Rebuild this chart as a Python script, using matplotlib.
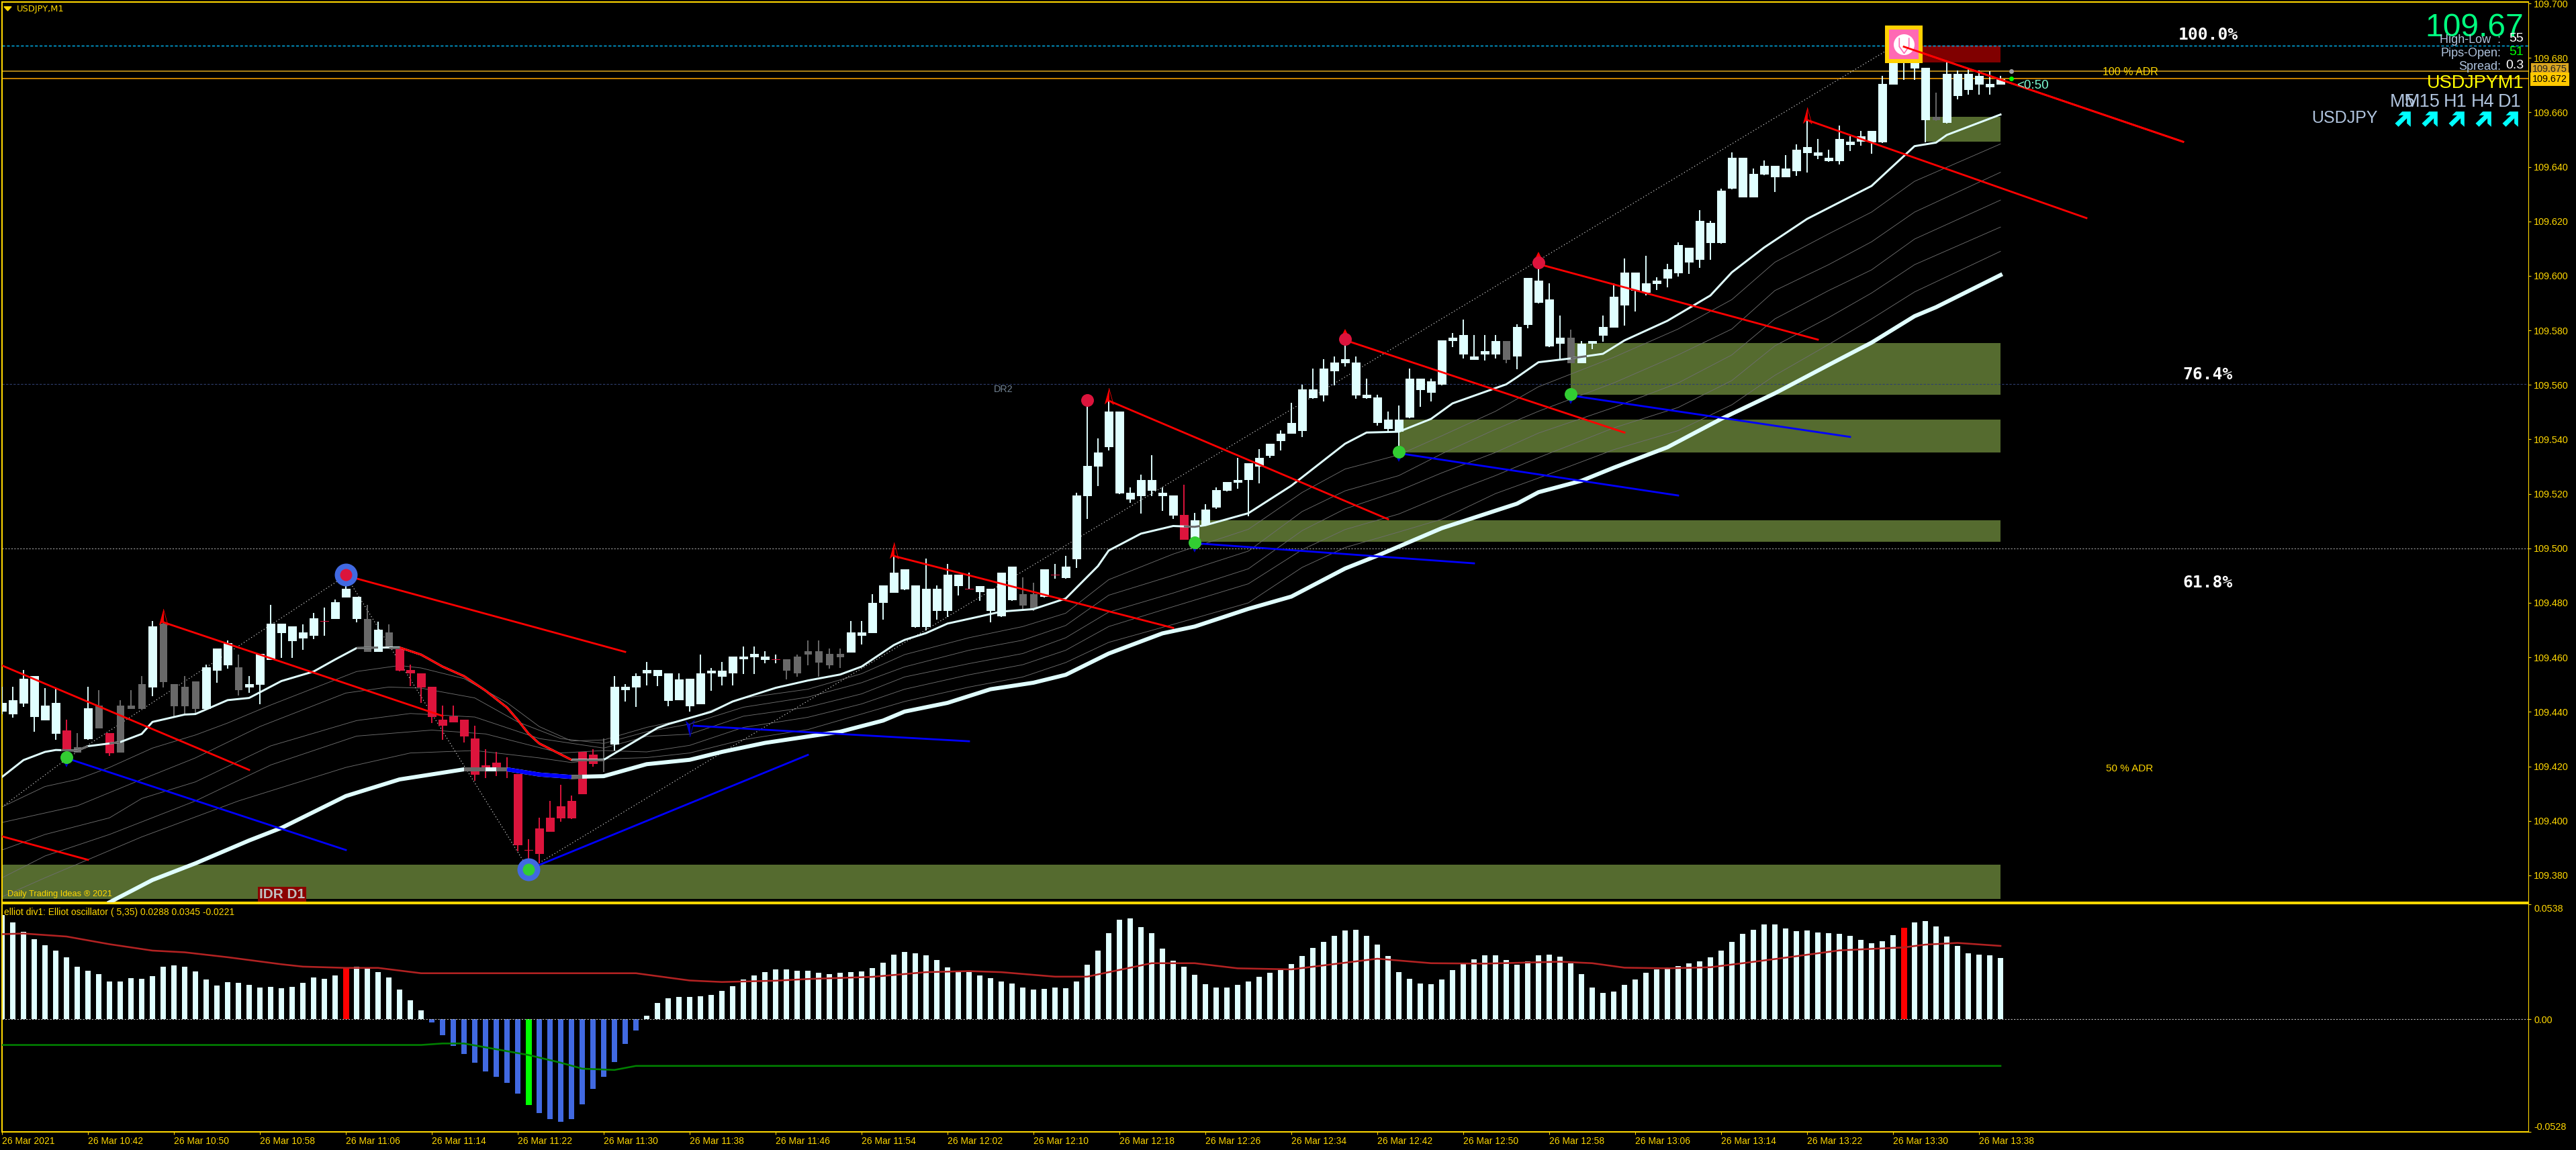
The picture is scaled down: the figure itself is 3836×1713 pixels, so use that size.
import numpy as np
import matplotlib
matplotlib.use("Agg")
import matplotlib.pyplot as plt
from matplotlib.path import Path

W, H = 3836, 1713
plt.rcParams['font.family'] = ['Liberation Sans', 'DejaVu Sans']

# candles, prices: high, body top, body bottom, low
high = [109.4491,109.4491,109.4553,109.4532,109.4487,109.4485,109.4372,109.4321,109.4491,109.4480,
        109.4321,109.4443,109.4480,109.4532,109.4733,109.4759,109.4502,109.4532,109.4511,109.4573,
        109.4632,109.4663,109.4610,109.4532,109.4612,109.4792,109.4724,109.4714,109.4722,109.4762,
        109.4783,109.4812,109.4874,109.4821,109.4792,109.4731,109.4722,109.4641,109.4573,109.4542,
        109.4491,109.4422,109.4422,109.4372,109.4350,109.4262,109.4253,109.4233,109.4172,109.3932,
        109.4011,109.4073,109.4132,109.4093,109.4253,109.4262,109.4302,109.4532,109.4502,109.4542,
        109.4582,109.4553,109.4542,109.4542,109.4522,109.4611,109.4561,109.4583,109.4603,109.4640,
        109.4640,109.4623,109.4611,109.4592,109.4611,109.4661,109.4661,109.4632,109.4632,109.4733,
        109.4733,109.4831,109.4863,109.4972,109.4922,109.4863,109.4962,109.4863,109.4942,109.4903,
        109.4911,109.4862,109.4852,109.4911,109.4933,109.4893,109.4874,109.4922,109.4942,109.4972,
        109.5204,109.5525,109.5403,109.5542,109.5502,109.5224,109.5271,109.5342,109.5224,109.5193,
        109.5233,109.5131,109.5161,109.5224,109.5243,109.5331,109.5312,109.5364,109.5384,109.5432,
        109.5534,109.5601,109.5661,109.5694,109.5703,109.5769,109.5703,109.5623,109.5563,109.5503,
        109.5524,109.5661,109.5623,109.5624,109.5763,109.5791,109.5840,109.5782,109.5782,109.5782,
        109.5762,109.5822,109.5992,109.6044,109.5972,109.5854,109.5802,109.5761,109.5762,109.5854,
        109.5972,109.6064,109.6012,109.6074,109.5994,109.6044,109.6123,109.6102,109.6242,109.6203,
        109.6321,109.6453,109.6433,109.6394,109.6423,109.6404,109.6443,109.6482,109.6572,109.6502,
        109.6462,109.6552,109.6511,109.6533,109.6533,109.6734,109.6869,109.6847,109.6792,109.6763,
        109.6673,109.6783,109.6753,109.6762,109.6753,109.6751,109.6734]
body_top = [109.4432,109.4443,109.4522,109.4532,109.4422,109.4432,109.4331,109.4271,109.4413,109.4422,
            109.4321,109.4422,109.4422,109.4502,109.4714,109.4724,109.4502,109.4491,109.4511,109.4563,
            109.4632,109.4651,109.4563,109.4502,109.4612,109.4724,109.4724,109.4714,109.4691,109.4744,
            109.4733,109.4802,109.4852,109.4821,109.4742,109.4702,109.4691,109.4629,109.4553,109.4542,
            109.4491,109.4372,109.4383,109.4372,109.4302,109.4203,109.4214,109.4193,109.4172,109.3893,
            109.3972,109.4011,109.4053,109.4073,109.4253,109.4242,109.4228,109.4491,109.4491,109.4532,
            109.4553,109.4553,109.4542,109.4520,109.4522,109.4542,109.4552,109.4552,109.4603,109.4603,
            109.4612,109.4603,109.4593,109.4592,109.4603,109.4623,109.4623,109.4612,109.4612,109.4691,
            109.4691,109.4801,109.4863,109.4911,109.4922,109.4863,109.4852,109.4852,109.4903,109.4903,
            109.4851,109.4862,109.4852,109.4911,109.4933,109.4831,109.4831,109.4922,109.4903,109.4933,
            109.5193,109.5302,109.5351,109.5502,109.5502,109.5203,109.5252,109.5252,109.5203,109.5193,
            109.5122,109.5102,109.5142,109.5213,109.5243,109.5252,109.5312,109.5331,109.5384,109.5422,
            109.5461,109.5583,109.5583,109.5661,109.5681,109.5694,109.5681,109.5563,109.5553,109.5472,
            109.5472,109.5623,109.5623,109.5613,109.5763,109.5772,109.5782,109.5704,109.5723,109.5762,
            109.5762,109.5813,109.5992,109.5982,109.5913,109.5772,109.5772,109.5752,109.5762,109.5812,
            109.5923,109.6012,109.6012,109.5972,109.5982,109.6024,109.6112,109.6102,109.6203,109.6194,
            109.6312,109.6433,109.6433,109.6374,109.6404,109.6404,109.6394,109.6462,109.6473,109.6453,
            109.6433,109.6502,109.6492,109.6513,109.6533,109.6704,109.6781,109.6814,109.6781,109.6763,
            109.6583,109.6742,109.6742,109.6742,109.6734,109.6704,109.6722]
body_bot = [109.4400,109.4392,109.4431,109.4381,109.4370,109.4319,109.4258,109.4251,109.4299,109.4340,
            109.4249,109.4251,109.4410,109.4410,109.4489,109.4509,109.4421,109.4421,109.4410,109.4410,
            109.4551,109.4570,109.4480,109.4489,109.4500,109.4590,109.4689,109.4660,109.4669,109.4678,
            109.4731,109.4740,109.4819,109.4740,109.4620,109.4620,109.4638,109.4551,109.4541,109.4489,
            109.4381,109.4348,109.4361,109.4309,109.4170,109.4181,109.4192,109.4190,109.3910,109.3891,
            109.3879,109.3959,109.4009,109.4009,109.4099,109.4209,109.4225,109.4280,109.4480,109.4489,
            109.4541,109.4532,109.4440,109.4442,109.4420,109.4429,109.4541,109.4530,109.4541,109.4592,
            109.4601,109.4590,109.4591,109.4551,109.4542,109.4610,109.4581,109.4570,109.4601,109.4618,
            109.4678,109.4689,109.4801,109.4838,109.4849,109.4711,109.4711,109.4771,109.4771,109.4862,
            109.4849,109.4840,109.4771,109.4750,109.4809,109.4790,109.4781,109.4821,109.4901,109.4891,
            109.4960,109.5192,109.5300,109.5371,109.5201,109.5179,109.5192,109.5212,109.5192,109.5120,
            109.5032,109.5023,109.5085,109.5149,109.5211,109.5241,109.5251,109.5300,109.5340,109.5393,
            109.5421,109.5431,109.5551,109.5562,109.5651,109.5679,109.5562,109.5551,109.5461,109.5439,
            109.5428,109.5480,109.5582,109.5571,109.5600,109.5760,109.5712,109.5692,109.5711,109.5711,
            109.5692,109.5703,109.5821,109.5901,109.5741,109.5751,109.5679,109.5679,109.5751,109.5780,
            109.5810,109.5892,109.5945,109.5939,109.5970,109.5989,109.6009,109.6049,109.6060,109.6121,
            109.6120,109.6319,109.6289,109.6289,109.6372,109.6363,109.6363,109.6383,109.6451,109.6440,
            109.6421,109.6420,109.6480,109.6493,109.6489,109.6489,109.6702,109.6786,109.6761,109.6572,
            109.6572,109.6561,109.6660,109.6682,109.6702,109.6693,109.6702]
low = [109.4390,109.4379,109.4418,109.4326,109.4370,109.4297,109.4201,109.4251,109.4297,109.4340,
       109.4238,109.4251,109.4410,109.4410,109.4458,109.4489,109.4381,109.4390,109.4394,109.4407,
       109.4507,109.4559,109.4460,109.4469,109.4428,109.4590,109.4598,109.4598,109.4627,109.4667,
       109.4678,109.4740,109.4819,109.4729,109.4620,109.4619,109.4638,109.4548,109.4495,109.4434,
       109.4359,109.4297,109.4361,109.4287,109.4148,109.4157,109.4165,109.4157,109.3888,109.3844,
       109.3844,109.3959,109.3996,109.4007,109.4099,109.4198,109.4179,109.4258,109.4438,109.4419,
       109.4497,109.4495,109.4421,109.4442,109.4400,109.4429,109.4478,109.4497,109.4497,109.4539,
       109.4539,109.4579,109.4579,109.4519,109.4530,109.4570,109.4530,109.4559,109.4561,109.4618,
       109.4647,109.4689,109.4739,109.4838,109.4847,109.4708,109.4698,109.4739,109.4749,109.4827,
       109.4849,109.4808,109.4728,109.4749,109.4808,109.4777,109.4771,109.4819,109.4889,109.4889,
       109.4928,109.5109,109.5228,109.5359,109.5199,109.5167,109.5127,109.5192,109.5138,109.5109,
       109.5032,109.5023,109.5085,109.5146,109.5210,109.5219,109.5118,109.5239,109.5331,109.5359,
       109.5421,109.5409,109.5549,109.5540,109.5598,109.5668,109.5549,109.5549,109.5450,109.5428,
       109.5351,109.5477,109.5519,109.5538,109.5598,109.5738,109.5697,109.5692,109.5690,109.5697,
       109.5679,109.5657,109.5807,109.5899,109.5739,109.5692,109.5679,109.5679,109.5730,109.5758,
       109.5810,109.5818,109.5870,109.5928,109.5948,109.5958,109.5998,109.6008,109.6030,109.6059,
       109.6119,109.6317,109.6288,109.6288,109.6370,109.6308,109.6361,109.6368,109.6379,109.6429,
       109.6418,109.6409,109.6459,109.6478,109.6448,109.6488,109.6702,109.6719,109.6719,109.6489,
       109.6570,109.6559,109.6647,109.6665,109.6665,109.6665,109.6701]
crimson_bars = [6, 10] + list(range(37, 56)) + [110]
grey_bars = [7, 9, 11, 12, 13, 15, 16, 17, 18, 22, 34, 36, 56, 73, 74, 75, 76, 77, 78, 95, 96, 140, 146, 180]
doji_bars = [30, 72, 90, 98]

# oscillator histogram
osc = [.0487,.0453,.0408,.0375,.0346,.0321,.0290,.0246,.0227,.0211,.0177,.0177,.0193,.0190,.0202,.0246,
       .0252,.0246,.0224,.0186,.0158,.0174,.0171,.0161,.0149,.0152,.0146,.0152,.0171,.0196,.0190,.0205,
       .0238,.0246,.0238,.0221,.0196,.0139,.0089,.0042,-.0014,-.0076,-.0124,-.0162,-.0203,-.0244,-.0269,
       -.0300,-.0348,-.0401,-.0439,-.0467,-.0480,-.0467,-.0398,-.0326,-.0269,-.0200,-.0115,-.0052,.0017,
       .0076,.0098,.0105,.0105,.0108,.0114,.0133,.0155,.0186,.0205,.0221,.0233,.0233,.0227,.0227,.0218,
       .0211,.0218,.0221,.0224,.0240,.0265,.0303,.0315,.0309,.0299,.0277,.0243,.0221,.0221,.0205,.0193,
       .0177,.0168,.0149,.0139,.0142,.0149,.0146,.0177,.0255,.0321,.0403,.0466,.0472,.0431,.0403,.0331,
       .0274,.0246,.0208,.0164,.0149,.0149,.0161,.0177,.0199,.0218,.0230,.0259,.0296,.0334,.0362,.0391,
       .0416,.0419,.0391,.0350,.0296,.0221,.0190,.0168,.0164,.0186,.0230,.0259,.0281,.0299,.0299,.0277,
       .0255,.0271,.0299,.0303,.0293,.0262,.0211,.0149,.0124,.0130,.0161,.0186,.0218,.0233,.0243,.0249,
       .0262,.0271,.0290,.0321,.0362,.0400,.0419,.0444,.0444,.0425,.0413,.0416,.0406,.0403,.0400,.0391,
       .0372,.0356,.0365,.0394,.0428,.0453,.0460,.0435,.0387,.0343,.0309,.0303,.0299,.0287]
osc_red_bars = [32, 177]
osc_green_bars = [49]

sig_up_x = [0,2,6,10,14,17,21,26,28,32,35,39,59,64,67,72,75,81,86,90,93,98,101,107,111,115,120,128,133,138,
            145,148,151,155,159,162,166,171,177,179,182,186]
sig_up = [.0398,.0401,.0387,.0351,.0321,.0313,.0290,.0257,.0246,.0240,.0240,.0215,.0215,.0181,.0174,.0180,
          .0188,.0198,.0220,.0225,.0220,.0199,.0199,.0262,.0262,.0238,.0233,.0283,.0262,.0260,.0269,.0262,
          .0241,.0238,.0243,.0262,.0288,.0322,.0336,.0349,.0357,.0343]
sig_dn_x = [0, 39, 41, 43, 46, 49, 52, 54, 57, 59, 186]
sig_dn = [-.0121, -.0121, -.0114, -.0114, -.0141, -.0168, -.0204, -.0232, -.0238, -.0219, -.0219]

# moving averages
fast_x = [0,2,4,5,7,8,11,13,14,17,18,21,23,26,29,31,33,35,37,39,41,43,45,47,48,49,50,53,56,61,62,66,68,72,75,78,
          80,83,84,86,88,91,93,96,99,102,103,106,109,111,112,116,120,125,127,130,133,135,140,141,143,146,149,
          151,155,159,161,164,168,174,178,180,181,186]
fast = [109.4161,109.4223,109.4253,109.4260,109.4258,109.4274,109.4289,109.4319,109.4363,109.4390,109.4392,
        109.4443,109.4451,109.4513,109.4548,109.4592,109.4634,109.4636,109.4636,109.4610,109.4566,109.4531,
        109.4478,109.4416,109.4370,109.4320,109.4284,109.4224,109.4224,109.4341,109.4355,109.4400,109.4438,
        109.4488,109.4515,109.4537,109.4566,109.4645,109.4664,109.4689,109.4724,109.4750,109.4768,109.4777,
        109.4816,109.4935,109.4992,109.5054,109.5082,109.5079,109.5085,109.5129,109.5230,109.5384,109.5425,
        109.5428,109.5475,109.5532,109.5602,109.5628,109.5683,109.5697,109.5714,109.5763,109.5835,109.5928,
        109.6013,109.6104,109.6209,109.6330,109.6476,109.6489,109.6517,109.6592]
slow_x = [10,14,18,23,26,32,37,43,47,50,53,56,60,64,67,71,78,82,84,88,92,96,99,103,108,111,116,120,125,128,134,
          141,143,147,150,155,160,165,170,174,178,180,186]
slow = [109.3701,109.3783,109.3844,109.3928,109.3974,109.4091,109.4152,109.4189,109.4189,109.4170,109.4161,
        109.4164,109.4208,109.4224,109.4253,109.4286,109.4327,109.4368,109.4401,109.4433,109.4483,109.4507,
        109.4536,109.4614,109.4688,109.4713,109.4778,109.4823,109.4926,109.4973,109.5074,109.5164,109.5206,
        109.5248,109.5296,109.5371,109.5475,109.5569,109.5673,109.5755,109.5852,109.5885,109.6003]

thin_tail_x = [60,64,69,75,80,84,90,95,99,103,109,116,121,125,130,134,139,143,150,156,161,165,170,174,178,186]
t1_x = [0,4,7,10,14,18,21,25,33,37,39,43,47,50,53,56] + thin_tail_x
t1 = [.4051,.4126,.4152,.4196,.4267,.4315,.4359,.4425,.4548,.4570,.4561,.4522,.4434,.4346,.4293,.4297,
      .4343,.4376,.4450,.4483,.4540,.4610,.4672,.4713,.4762,.4885,.4979,.5070,.5205,.5291,.5343,.5413,.5503,
      .5593,.5701,.5805,.5913,.6050,.6154,.6234,.6347,.6484]
t2_x = [0,7,13,18,24,32,36,39,44,48,52,56] + thin_tail_x
t2 = [.3994,.4055,.4152,.4231,.4346,.4469,.4491,.4487,.4451,.4363,.4302,.4284,
      .4327,.4355,.4417,.4454,.4507,.4565,.4626,.4663,.4717,.4828,.4901,.4990,.5135,.5211,.5267,.5347,.5437,
      .5503,.5607,.5710,.5805,.5946,.6041,.6125,.6234,.6380]
t3_x = [0,4,10,13,18,25,33,38,44,50,56] + thin_tail_x
t3 = [.3893,.3950,.4011,.4082,.4143,.4275,.4368,.4394,.4381,.4302,.4267,
      .4310,.4318,.4384,.4417,.4466,.4528,.4577,.4614,.4672,.4766,.4836,.4925,.5065,.5145,.5211,.5277,.5352,
      .5423,.5517,.5607,.5710,.5842,.5946,.6022,.6135,.6278]
t4_x = [0,4,10,18,25,33,40,45,52,56] + thin_tail_x
t4 = [.3791,.3871,.3950,.4073,.4205,.4311,.4333,.4319,.4249,.4258,
      .4253,.4277,.4343,.4380,.4429,.4483,.4536,.4573,.4626,.4713,.4786,.4870,.4995,.5069,.5126,.5192,.5267,
      .5333,.5442,.5517,.5616,.5743,.5847,.5937,.6041,.6179]
t5_x = [0,4,13,22,32,38,44,50,53,56] + thin_tail_x
t5 = [.3721,.3791,.3941,.4073,.4196,.4249,.4258,.4231,.4214,.4227,
      .4232,.4249,.4298,.4335,.4392,.4438,.4491,.4528,.4581,.4655,.4721,.4800,.4930,.5003,.5060,.5107,.5201,
      .5258,.5362,.5432,.5527,.5635,.5748,.5842,.5941,.6090]

# zones: first bar, last bar, top, bottom
zones = [(-1, 186, 109.3840, 109.3714), (111, 186, 109.5102, 109.5023), (130, 186, 109.5473, 109.5352),
         (146, 186, 109.5754, 109.5563), (179, 186, 109.6583, 109.6493)]
red_box = (178.6, 186, 109.6844, 109.6783)

red_lines = [(0,109.4570,23,109.4187), (15,109.4729,41,109.4385), (32,109.4900,58,109.4620), (0,109.3943,8,109.3857),
             (83,109.4972,109,109.4708), (103,109.5542,129,109.5107), (125,109.5764,151,109.5425),
             (143.5,109.6038,169,109.5766), (168,109.6572,194,109.6212), (177,109.6841,203,109.6492)]
blue_lines = [(6,109.4230,32,109.3893), (49,109.3822,75,109.4242), (64.4,109.4349,90,109.4292),
              (111,109.5019,137,109.4945), (130,109.5349,156,109.5194), (146,109.5561,172,109.5409)]
zigzag_x = [0, 6, 32, 49, 177]
zigzag = [109.4051, 109.4227, 109.4900, 109.3822, 109.6865]

ring_red = (32, 109.4904)
ring_green = (49, 109.3822)
green_dots = [(6, 109.4233), (111, 109.5021), (130, 109.5354), (146, 109.5566)]
crimson_dots = [(101, 109.5545), (125, 109.5767), (143, 109.6050)]
up_arrows = [(15, 109.4748), (83, 109.4992), (103, 109.5558), (168, 109.6588)]

time_ticks = list(range(0, 185, 8))
time_labels = ["26 Mar 2021", "26 Mar 10:42", "26 Mar 10:50", "26 Mar 10:58", "26 Mar 11:06", "26 Mar 11:14",
               "26 Mar 11:22", "26 Mar 11:30", "26 Mar 11:38", "26 Mar 11:46", "26 Mar 11:54", "26 Mar 12:02",
               "26 Mar 12:10", "26 Mar 12:18", "26 Mar 12:26", "26 Mar 12:34", "26 Mar 12:42", "26 Mar 12:50",
               "26 Mar 12:58", "26 Mar 13:06", "26 Mar 13:14", "26 Mar 13:22", "26 Mar 13:30", "26 Mar 13:38"]
price_ticks = [109.38 + 0.02 * k for k in range(17)]

GOLD = "#FFD700"
AZURE = "#E0FFFF"
CRIMSON = "#DC143C"
GREY = "#696969"
OLIVE = "#556B2F"
PX = 0.72  # points per pixel at dpi 100


def px_box(x0, y0, x1, y1):
    return [x0 / W, 1 - y1 / H, (x1 - x0) / W, (y1 - y0) / H]


def txt(x, y, s, color=GOLD, size=10, ha="left", va="center", **kw):
    return fig.text(x / W, 1 - y / H, s, color=color, fontsize=size, ha=ha, va=va, **kw)


def part(xs, ys, a, b, color, lw, z=5):
    # piece of a polyline between bars a and b
    xs = np.array(xs, float)
    ys = np.array(ys, float)
    keep = (xs > a) & (xs < b)
    px_ = np.r_[a, xs[keep], b]
    py_ = np.r_[np.interp(a, xs, ys), ys[keep], np.interp(b, xs, ys)]
    ax.plot(px_, py_, color=color, lw=lw, zorder=z, solid_capstyle="butt")


fig = plt.figure(figsize=(W / 100, H / 100), dpi=100, facecolor="black")
ax = fig.add_axes(px_box(2.5, 2.5, 3765, 1344), facecolor="black")
ax2 = fig.add_axes(px_box(2.5, 1346, 3765, 1686), facecolor="black")

xlim = ((2.5 - 3) / 16, (3765 - 3) / 16)
for a in (ax, ax2):
    a.set_xlim(*xlim)
    for s in a.spines.values():
        s.set_color(GOLD)
        s.set_linewidth(1.5)
    a.spines["right"].set_linewidth(0.8)
ax.set_ylim(109.70 - (1344 - 5) / 4059, 109.70 + 2.5 / 4059)
ax2.set_ylim(-(1686 - 1518.3) * 0.000314, (1518.3 - 1346) * 0.000314)

# price axis
ax.yaxis.tick_right()
ax.set_yticks(price_ticks)
ax.set_yticklabels(["%.3f" % p for p in price_ticks])
ax.tick_params(axis="y", colors=GOLD, labelsize=10.4, length=3, width=0.8, pad=3)
ax.set_xticks([])

# zones and level lines
for a_, b_, top, bot in zones:
    ax.fill_between([a_, b_], bot, top, color=OLIVE, lw=0, zorder=1)
ax.fill_between(red_box[:2], red_box[3], red_box[2], color="#800000", lw=0, zorder=1)
ax.axhline(109.5000, color="#A0A0A0", lw=0.8, ls=(0, (2, 2)), zorder=1.5)
ax.axhline(109.5604, color="#2F3F6F", lw=0.8, ls=(0, (3, 2)), zorder=1.5)
ax.axhline(109.6844, color="#00BFFF", lw=1, ls=(0, (3, 2)), zorder=1.5)
ax.axhline(109.6752, color="#DAA520", lw=1.1, zorder=1.5)
ax.axhline(109.6723, color="#FFA500", lw=1.1, zorder=1.5)
ax.plot([187], [109.6752], "o", color="#A0A0A0", ms=4, zorder=6)
ax.plot([187], [109.6723], "o", color="#00FF00", ms=4, zorder=6)

# thin averages and dotted swing lines
for tx, ty in [(t1_x, t1), (t2_x, t2), (t3_x, t3), (t4_x, t4), (t5_x, t5)]:
    ax.plot(tx, 109 + np.array(ty), color="#6E6E6E", lw=0.65, zorder=2)
ax.plot(zigzag_x, zigzag, color="white", lw=0.8, ls=(0, (1, 3)), zorder=2.5)

# candles
x = np.arange(len(high))
high = np.array(high)
low = np.array(low)
body_top = np.array(body_top)
body_bot = np.array(body_bot)
colors = [AZURE] * len(x)
widths = [13 / 16] * len(x)
for i in crimson_bars:
    colors[i] = CRIMSON
for i in grey_bars:
    colors[i] = GREY
    widths[i] = 11 / 16
wick_colors = list(colors)
for i in doji_bars:
    colors[i] = CRIMSON
    wick_colors[i] = AZURE
ax.vlines(x, low, high, colors=wick_colors, lw=1.4, zorder=3)
ax.bar(x, np.maximum(body_top - body_bot, 0.0003), bottom=body_bot, width=widths, color=colors, lw=0, zorder=3.2)

# fast and slow averages
ax.plot(fast_x, fast, color=AZURE, lw=3 * PX, zorder=5)
part(fast_x, fast, 37, 53, "#FF0000", 3 * PX, 5.1)
for a_, b_ in [(5.5, 8), (10, 11), (33, 35), (36, 37), (53, 56), (110, 111.5), (146, 147.5)]:
    part(fast_x, fast, a_, b_, GREY, 3 * PX, 5.2)
ax.plot(slow_x, slow, color=AZURE, lw=6 * PX, zorder=5)
part(slow_x, slow, 47, 53, "#0000FF", 6 * PX, 5.1)
for a_, b_ in [(43, 45), (46, 47), (53, 54)]:
    part(slow_x, slow, a_, b_, GREY, 6 * PX, 5.2)

# trend lines
for x0, y0, x1, y1 in red_lines:
    ax.plot([x0, x1], [y0, y1], color="#FF0000", lw=2.8 * PX, zorder=6)
for x0, y0, x1, y1 in blue_lines:
    ax.plot([x0, x1], [y0, y1], color="#0000FF", lw=2.8 * PX, zorder=6)

# markers
left_half = Path([(0, 1), (-.55, -1), (0, -.5), (0, 1)], closed=True)
right_half = Path([(0, 1), (.55, -1), (0, -.5), (0, 1)], closed=True)
for i, p in up_arrows:
    ax.plot(i, p, marker=left_half, ms=24 * PX, color="#FF0000", mew=0, zorder=7)
    ax.plot(i, p, marker=right_half, ms=24 * PX, mfc="none", mec="#FF0000", mew=0.6, zorder=7)
ax.plot(64, 109.4339, marker=Path([(0, -1), (-.55, 1), (0, .5), (0, -1)], closed=True), ms=24 * PX, color="#0000CD", mew=0, zorder=7)
ax.plot(64, 109.4339, marker=Path([(0, -1), (.55, 1), (0, .5), (0, -1)], closed=True), ms=24 * PX, mfc="none", mec="#0000CD", mew=0.6, zorder=7)
for i, p in green_dots:
    ax.plot(i, p - 0.0024, "v", color="#0000CD", ms=10 * PX, mew=0, zorder=6.5)
    ax.plot(i, p, "o", color="#32CD32", ms=19 * PX, mew=0, zorder=7)
for i, p in crimson_dots:
    if i != 101:
        ax.plot(i, p + 0.0024, "^", color="#FF0000", ms=12 * PX, mew=0, zorder=6.5)
    ax.plot(i, p, "o", color=CRIMSON, ms=19 * PX, mew=0, zorder=7)
ax.plot(*ring_red, "o", color="#4169E1", ms=34 * PX, mew=0, zorder=7)
ax.plot(*ring_red, "o", color=CRIMSON, ms=18 * PX, mew=0, zorder=7.1)
ax.plot(*ring_green, "o", color="#4169E1", ms=34 * PX, mew=0, zorder=7)
ax.plot(*ring_green, "o", color="#32CD32", ms=18 * PX, mew=0, zorder=7.1)

# top marker
top_x, top_p = 177, 109.6850
ax.plot(top_x, top_p, "s", color="#FFD100", ms=56 * PX, mew=0, zorder=7)
ax.plot(top_x, top_p, "s", color="#FF69B4", ms=44 * PX, mew=0, zorder=7.1)
ax.plot(top_x, top_p, "o", color="white", ms=31 * PX, mew=0, zorder=7.2)
tulip = Path([(-.5, .7), (-.5, -.2), (0, -.9), (.5, -.2), (.5, .7)], [1, 2, 2, 2, 2])
ax.plot(top_x, top_p, marker=tulip, ms=26 * PX, mfc="none", mec="#FF69B4", mew=1.2, zorder=7.3)
ax.plot([top_x, 203], [109.6841, 109.6492], color="#FF0000", lw=2.8 * PX, zorder=7.4)

# oscillator
ax2.yaxis.tick_right()
ax2.set_yticks([0.0538, 0.0, -0.0528])
ax2.set_yticklabels(["0.0538", "0.00", "-0.0528"])
ax2.tick_params(axis="y", colors=GOLD, labelsize=10.4, length=3, width=0.8, pad=3)
labs = ax2.get_yticklabels()
labs[0].set_va("top")
labs[2].set_va("bottom")
ax2.set_xticks(time_ticks)
ax2.set_xticklabels(time_labels, ha="left")
ax2.tick_params(axis="x", colors=GOLD, labelsize=10, length=3, width=0.8, pad=2)

osc = np.array(osc)
bar_colors = [AZURE if v >= 0 else "#4169E1" for v in osc]
bar_widths = [7.5 / 16] * len(osc)
for i in osc_red_bars:
    bar_colors[i] = "#FF0000"
    bar_widths[i] = 9 / 16
for i in osc_green_bars:
    bar_colors[i] = "#00FF00"
    bar_widths[i] = 9 / 16
ax2.bar(np.arange(len(osc)), osc, width=bar_widths, color=bar_colors, lw=0, zorder=2)
ax2.plot(sig_up_x, sig_up, color="#B22222", lw=2.6 * PX, zorder=3)
ax2.plot(sig_dn_x, sig_dn, color="#008000", lw=2.6 * PX, zorder=3)
ax2.axhline(0, color="#C0C0C0", lw=0.8, ls=(0, (2, 2)), zorder=4)

# texts
fig.add_artist(plt.Polygon([[6 / W, 1 - 10 / H], [17 / W, 1 - 10 / H], [11.5 / W, 1 - 16 / H]], color=GOLD, transform=fig.transFigure))
txt(25, 14, "USDJPY,M1", size=9.4, family="DejaVu Sans")
txt(6, 1359, "elliot div1: Elliot oscillator ( 5,35) 0.0288 0.0345 -0.0221", size=10)
txt(11, 1332, "Daily Trading Ideas \u00ae 2021", size=9.3)
txt(420, 1332, "IDR D1", color="#C0C0C0", size=15, ha="center", weight="bold",
    bbox=dict(facecolor="#8B0000", edgecolor="none", pad=1.2))
txt(1494, 580, "DR2", color="#708090", size=10.4, ha="center")
for y, s in [(52, "100.0%"), (558, "76.4%"), (868, "61.8%")]:
    txt(3288, y, s, color="white", size=17.7, ha="center", weight="bold", family="DejaVu Sans Mono")
txt(3172, 108, "100 % ADR", size=11.5, ha="center")
txt(3171, 1145, "50 % ADR", size=11, ha="center")
txt(3003, 128, "<0:50", color="#7FFFD4", size=13.5)
txt(3758, 41, "109.67", color="#00FF7F", size=34.6, ha="right")
txt(3724, 60, "High-Low  :", color="#B0C4DE", size=13, ha="right")
txt(3758, 58, "55", color="white", size=14, ha="right")
txt(3724, 80, "Pips-Open:", color="#B0C4DE", size=13, ha="right")
txt(3758, 78, "51", color="#00FF00", size=14, ha="right")
txt(3724, 100, "Spread:", color="#B0C4DE", size=13, ha="right")
txt(3758, 98, "0.3", color="white", size=14, ha="right")
txt(3758, 124, "USDJPYM1", color="#FFFF00", size=19.5, ha="right")
for xr, s in [(3596, "M5"), (3634, "M15"), (3674, "H1"), (3714, "H4"), (3754, "D1")]:
    txt(xr, 152, s, color="#B0C4DE", size=19.5, ha="right")
txt(3442, 176, "USDJPY", color="#B0C4DE", size=18)

# price flags on the axis
txt(3797, 103, "109.675", color="#222222", size=10.4, ha="center",
    bbox=dict(facecolor="#DAA520", edgecolor="none", boxstyle="square,pad=0.12"))
txt(3797, 118, "109.672", color="black", size=10.4, ha="center",
    bbox=dict(facecolor="#FFC800", edgecolor="none", boxstyle="square,pad=0.2"))

# trend arrows in the panel
ov = fig.add_axes([0, 0, 1, 1], facecolor="none")
ov.set_xlim(0, W)
ov.set_ylim(H, 0)
ov.axis("off")
arrow = Path([(-.1, .9), (.9, .9), (.9, -.9), (.45, -.5), (.45, .1), (-.55, -.9), (-.95, -.5), (.05, .45), (-.55, .45), (-.1, .9)], closed=True)
arrow_xs = [3578, 3618, 3658, 3698, 3738]
ov.plot(arrow_xs, [177] * 5, ls="none", marker=arrow, ms=24 * PX, color="#00FFFF", mew=0)

fig.savefig("out.png", dpi=100, facecolor="black")
